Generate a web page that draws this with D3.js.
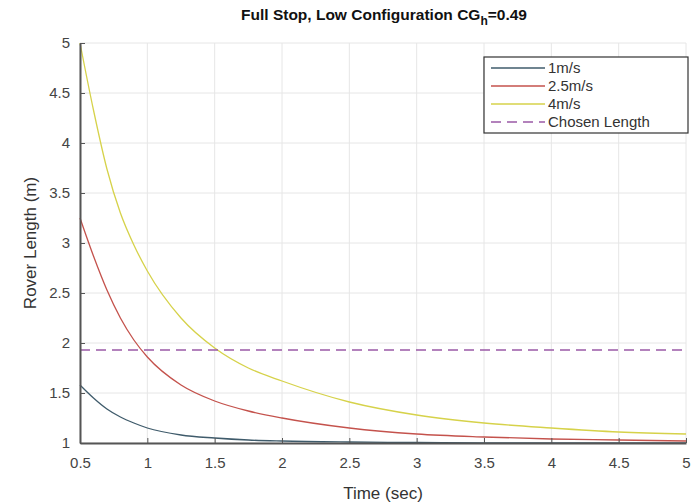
<!DOCTYPE html>
<html>
  <head>
    <script src="https://d3js.org/d3.v7.min.js"></script>
    <style>
      body { margin: 0; background: #fff; }
      text { font-family: "Liberation Sans", Arial, sans-serif; }
    </style>
  </head>
  <body>
    <script>

    // data
    var time = [0.5, 0.6, 0.7, 0.8, 0.9, 1.0, 1.25, 1.5, 1.75, 2.0, 2.5, 3.0, 3.5, 4.0, 4.5, 5.0];
    var speed1 = [1.58, 1.45, 1.34, 1.26, 1.20, 1.15, 1.08, 1.05, 1.03, 1.02, 1.01, 1.005, 1.0, 1.0, 1.0, 1.0];
    var speed25 = [3.25, 2.87, 2.53, 2.25, 2.03, 1.86, 1.58, 1.42, 1.32, 1.25, 1.15, 1.09, 1.06, 1.04, 1.03, 1.02];
    var speed4 = [5.0, 4.33, 3.74, 3.30, 2.98, 2.72, 2.25, 1.95, 1.75, 1.62, 1.41, 1.28, 1.20, 1.15, 1.11, 1.09];
    var chosenLength = 1.93;
    var seriesNames = ["1m/s", "2.5m/s", "4m/s", "Chosen Length"];
    var xTicks = [0.5, 1, 1.5, 2, 2.5, 3, 3.5, 4, 4.5, 5];
    var yTicks = [1, 1.5, 2, 2.5, 3, 3.5, 4, 4.5, 5];

    var colors = ["#3f5b6b", "#c4524c", "#d6d24a", "#9b5aa6"];

    var w = 693, h = 502;
    var margin = { left: 80, right: 7, top: 43, bottom: 59 };

    var svg = d3.select("body").append("svg")
      .attr("width", w)
      .attr("height", h);

    var x = d3.scaleLinear().domain([0.5, 5]).range([margin.left, w - margin.right]);
    var y = d3.scaleLinear().domain([1, 5]).range([h - margin.bottom, margin.top]);

    // grid
    svg.append("g").selectAll("line").data(xTicks).enter().append("line")
      .attr("x1", function(d) { return x(d); }).attr("x2", function(d) { return x(d); })
      .attr("y1", y(1)).attr("y2", y(5))
      .attr("stroke", "#e6e6e6").attr("stroke-width", 1);
    svg.append("g").selectAll("line").data(yTicks).enter().append("line")
      .attr("y1", function(d) { return y(d); }).attr("y2", function(d) { return y(d); })
      .attr("x1", x(0.5)).attr("x2", x(5))
      .attr("stroke", "#e6e6e6").attr("stroke-width", 1);

    // curves
    var series = [speed1, speed25, speed4];
    var line = d3.line()
      .x(function(d, i) { return x(time[i]); })
      .y(function(d) { return y(d); })
      .curve(d3.curveMonotoneX);

    svg.append("g").selectAll("path").data(series).enter().append("path")
      .attr("d", line)
      .attr("fill", "none")
      .attr("stroke", function(d, i) { return colors[i]; })
      .attr("stroke-width", 1.3);

    svg.append("line")
      .attr("x1", x(0.5)).attr("x2", x(5))
      .attr("y1", y(chosenLength)).attr("y2", y(chosenLength))
      .attr("stroke", colors[3])
      .attr("stroke-width", 1.3)
      .attr("stroke-dasharray", "10,6");

    // axes (ticks point inward like matlab)
    var xAxis = svg.append("g")
      .attr("transform", "translate(0," + y(1) + ")")
      .call(d3.axisBottom(x).tickValues(xTicks).tickSizeInner(-5).tickSizeOuter(0).tickPadding(14)
        .tickFormat(d3.format("")));
    var yAxis = svg.append("g")
      .attr("transform", "translate(" + x(0.5) + ",0)")
      .call(d3.axisLeft(y).tickValues(yTicks).tickSizeInner(-5).tickSizeOuter(0).tickPadding(10)
        .tickFormat(d3.format("")));

    [xAxis, yAxis].forEach(function(a) {
      a.select(".domain").attr("stroke", "#555").attr("stroke-width", 2);
      a.selectAll(".tick line").attr("stroke", "#555");
      a.selectAll(".tick text").attr("fill", "#444").attr("font-size", "15px")
        .style("font-family", "Liberation Sans, Arial, sans-serif");
    });

    // labels
    svg.append("text")
      .attr("x", 383).attr("y", 499)
      .attr("text-anchor", "middle")
      .attr("font-size", "17px").attr("fill", "#333")
      .text("Time (sec)");

    svg.append("text")
      .attr("transform", "translate(36," + (y(3)) + ") rotate(-90)")
      .attr("text-anchor", "middle")
      .attr("font-size", "17px").attr("fill", "#333")
      .text("Rover Length (m)");

    var title = svg.append("text")
      .attr("x", 384).attr("y", 20)
      .attr("text-anchor", "middle")
      .attr("font-size", "15.5px").attr("font-weight", "bold").attr("fill", "#111");
    title.append("tspan").text("Full Stop, Low Configuration CG");
    title.append("tspan").attr("font-size", "12px").attr("dy", 5).text("h");
    title.append("tspan").attr("dy", -5).text("=0.49");

    // legend
    var lg = svg.append("g").attr("transform", "translate(484,57)");
    lg.append("rect")
      .attr("width", 204).attr("height", 76)
      .attr("fill", "#fff").attr("stroke", "#333").attr("stroke-width", 1.2);
    var rows = lg.selectAll("g.row").data(seriesNames).enter().append("g")
      .attr("transform", function(d, i) { return "translate(0," + (11 + i * 18) + ")"; });
    rows.append("line")
      .attr("x1", 7).attr("x2", 61)
      .attr("stroke", function(d, i) { return colors[i]; })
      .attr("stroke-width", 1.3)
      .attr("stroke-dasharray", function(d, i) { return i == 3 ? "10,6" : null; });
    rows.append("text")
      .attr("x", 64).attr("y", 5)
      .attr("font-size", "15px").attr("fill", "#333")
      .text(function(d) { return d; });

    </script>
  </body>
</html>
